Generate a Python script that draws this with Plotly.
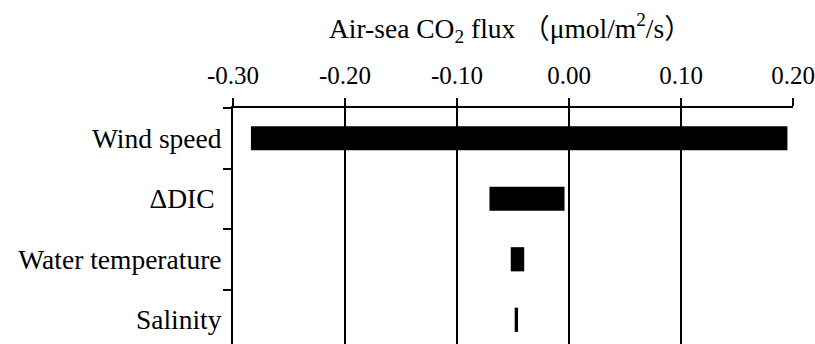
import plotly.graph_objects as go

# Floating bars: low and high end of each driver's contribution
categories = ["Wind speed", "ΔDIC ", "Water temperature", "Salinity"]
low_values = [-0.284, -0.071, -0.052, -0.0485]
high_values = [0.195, -0.004, -0.040, -0.0455]
tick_values = [-0.30, -0.20, -0.10, 0.00, 0.10, 0.20]
tick_labels = ["-0.30", "-0.20", "-0.10", "0.00", "0.10", "0.20"]
x_title = "Air-sea CO<sub>2</sub> flux （μmol/m<sup>2</sup>/s）"

FONT = "Liberation Serif"

fig = go.Figure()

fig.add_trace(
    go.Bar(
        y=categories,
        x=[h - l for l, h in zip(low_values, high_values)],
        base=low_values,
        orientation="h",
        width=0.4,
        marker=dict(color="black", line=dict(width=0)),
        showlegend=False,
    )
)

# Axis title placed as an annotation so it sits exactly where the original has it
fig.add_annotation(
    text=x_title,
    xref="paper",
    yref="paper",
    x=0.495,
    y=1,
    xanchor="center",
    yanchor="middle",
    yshift=80,
    showarrow=False,
    font=dict(family=FONT + ", Noto Sans CJK JP", size=27.5, color="black"),
)

fig.update_layout(
    template="none",
    width=815,
    height=344,
    margin=dict(l=233, r=22, t=108, b=0),
    paper_bgcolor="white",
    plot_bgcolor="white",
    font=dict(family=FONT, size=26, color="black"),
    showlegend=False,
    xaxis=dict(
        side="top",
        automargin=False,
        range=[-0.30, 0.20],
        tickvals=tick_values,
        ticktext=tick_labels,
        ticks="outside",
        ticklen=8,
        tickwidth=2,
        tickcolor="black",
        ticklabelstandoff=4,
        showline=True,
        linecolor="black",
        linewidth=2,
        showgrid=True,
        gridcolor="black",
        gridwidth=2,
        zeroline=False,
        tickfont=dict(family=FONT, size=25),
    ),
    yaxis=dict(
        automargin=False,
        categoryorder="array",
        categoryarray=categories,
        range=[3.40, -0.5],
        tickson="boundaries",
        ticks="outside",
        ticklen=8,
        tickwidth=2,
        tickcolor="black",
        showline=True,
        linecolor="black",
        linewidth=2,
        showgrid=False,
        zeroline=False,
        tickfont=dict(family=FONT, size=27.5),
        ticklabelstandoff=4,
    ),
)

# drop the browser's default 8px body margin so the figure fills the window
fig.write_html(
    "out.html",
    config={"displayModeBar": False},
    post_script="document.body.style.margin='0';",
)
